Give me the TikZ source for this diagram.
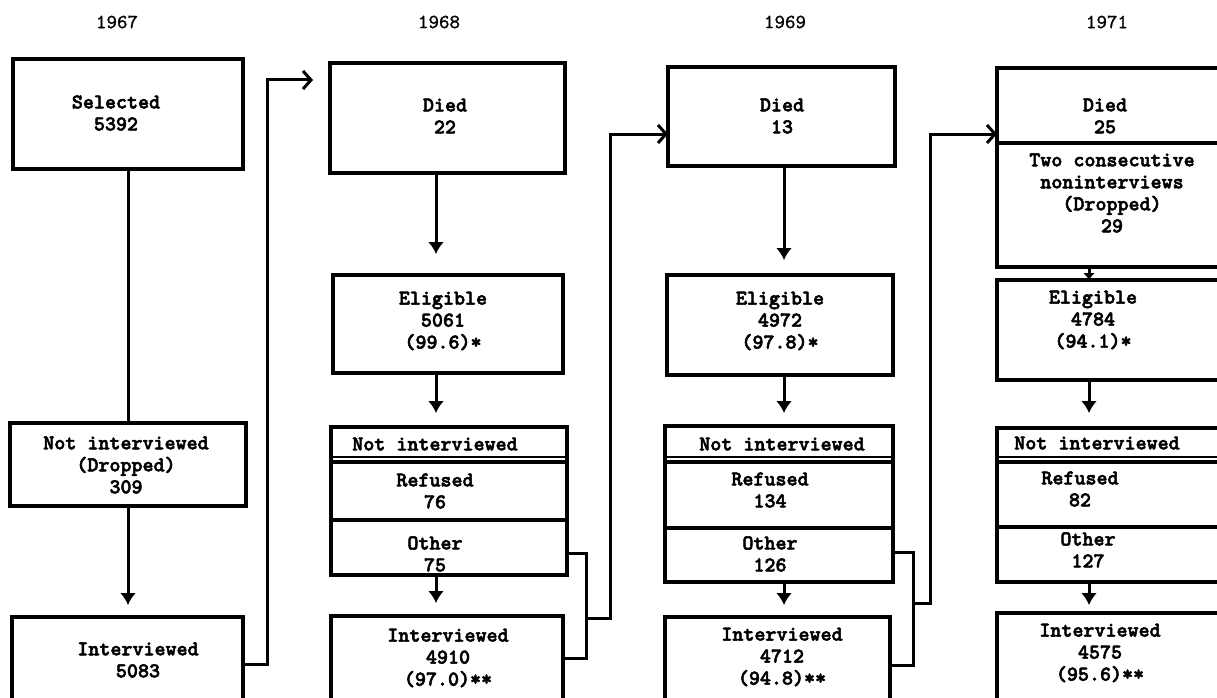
\documentclass[tikz,border=0pt]{standalone}
\usepackage{fontspec}
\usetikzlibrary{arrows.meta}
\newfontfamily\twbold[FakeBold=2.5]{lmmonolt10-bold.otf}
\newfontfamily\twreg[FakeBold=1.2]{lmmono10-regular.otf}
\newcommand\twfont{\twbold\fontsize{21}{22}\selectfont}
\newcommand\yrfont{\twreg\fontsize{20}{22}\selectfont}
\tikzset{
  box/.style={draw, line width=3.2pt, inner sep=0pt, outer sep=0pt},
  txt/.style={font=\twfont, align=center, inner sep=0pt},
  yr/.style={font=\yrfont, inner sep=0pt},
  conn/.style={draw, line width=3pt},
  varr/.style={conn, -{Latex[length=12pt,width=16pt]}},
  harr/.style={conn, -{Straight Barb[length=8pt,width=18pt]}}}
\begin{document}
\begin{tikzpicture}[x=1pt,y=-1pt]
\clip (0,0) rectangle (1217,698);

% years
\node[yr] (y67) at (117,22) {1967};
\node[yr] (y68) at (439,22) {1968};
\node[yr] (y69) at (785,22) {1969};
\node[yr] (y71) at (1107,22) {1971};

% ---------- 1967 ----------
\node[box, minimum width=230pt, minimum height=110pt] (sel) at (128,114) {};
\node[box, minimum width=236pt, minimum height=83pt] (ni67) at (128,464.5) {};
\node[box, minimum width=231pt, minimum height=103pt] (int67) at (127.5,668.5) {};
\node[txt] (tsel) at (116,113) {Selected\\5392};
\node[txt] (tni67) at (126,465) {Not interviewed\\(Dropped)\\309};
\node[txt] (tint67) at (138,660) {Interviewed\\5083};

% ---------- 1968 ----------
\node[box, minimum width=235pt, minimum height=110pt] (died68) at (447.5,118) {};
\node[box, minimum width=230pt, minimum height=98pt] (elig68) at (448,324) {};
\node[box, minimum width=236pt, minimum height=35pt] (hdr68) at (449,444.5) {};
\node[box, minimum width=236pt, minimum height=58pt] (ref68) at (449,491) {};
\node[box, minimum width=236pt, minimum height=55pt] (oth68) at (449,547.5) {};
\node[box, minimum width=232pt, minimum height=104pt] (int68) at (447,668) {};
\draw[line width=2pt] ([yshift=5pt]hdr68.south west) -- ([yshift=5pt]hdr68.south east);
\node[txt] (tdied68) at (445,116) {Died\\22};
\node[txt] (telig68) at (443,321) {Eligible\\5061\\(99.6)*};
\node[txt] (thdr68) at (435,444) {Not interviewed};
\node[txt] (tref68) at (435,491) {Refused\\76};
\node[txt] (toth68) at (435,554) {Other\\75};
\node[txt] (tint68) at (448,658) {Interviewed\\4910\\(97.0)**};

% ---------- 1969 ----------
\node[box, minimum width=227pt, minimum height=99pt] (died69) at (781.5,116.5) {};
\node[box, minimum width=226pt, minimum height=100pt] (elig69) at (780,325) {};
\node[box, minimum width=228pt, minimum height=36pt] (hdr69) at (779,444) {};
\node[box, minimum width=228pt, minimum height=66pt] (ref69) at (779,495) {};
\node[box, minimum width=228pt, minimum height=54pt] (oth69) at (779,555) {};
\node[box, minimum width=225pt, minimum height=103pt] (int69) at (777.5,668.5) {};
\draw[line width=2pt] ([yshift=5pt]hdr69.south west) -- ([yshift=5pt]hdr69.south east);
\node[txt] (tdied69) at (782,116) {Died\\13};
\node[txt] (telig69) at (780,321) {Eligible\\4972\\(97.8)*};
\node[txt] (thdr69) at (782,444) {Not interviewed};
\node[txt] (tref69) at (770,490) {Refused\\134};
\node[txt] (toth69) at (770,554) {Other\\126};
\node[txt] (tint69) at (782,657) {Interviewed\\4712\\(94.8)**};

% ---------- 1971 ----------
\node[box, minimum width=243pt, minimum height=75pt] (dd71) at (1118.5,105.5) {};
\node[box, minimum width=243pt, minimum height=124pt] (tc71) at (1118.5,205) {};
\node[box, minimum width=243pt, minimum height=100pt] (elig71) at (1118.5,330) {};
\node[box, minimum width=243pt, minimum height=34pt] (hdr71) at (1118.5,445) {};
\node[box, minimum width=243pt, minimum height=65pt] (ref71) at (1118.5,494.5) {};
\node[box, minimum width=243pt, minimum height=55pt] (oth71) at (1118.5,554.5) {};
\node[box, minimum width=243pt, minimum height=107pt] (int71) at (1118.5,666.5) {};
\draw[line width=2pt] ([yshift=5pt]hdr71.south west) -- ([yshift=5pt]hdr71.south east);
\node[txt] (tdd71) at (1105,116) {Died\\25};
\node[txt] (ttc71) at (1112,193) {Two consecutive\\noninterviews\\(Dropped)\\29};
\node[txt] (telig71) at (1093,320) {Eligible\\4784\\(94.1)*};
\node[txt] (thdr71) at (1097,443) {Not interviewed};
\node[txt] (tref71) at (1080,489) {Refused\\82};
\node[txt] (toth71) at (1088,550) {Other\\127};
\node[txt] (tint71) at (1100,653) {Interviewed\\4575\\(95.6)**};

% ---------- vertical arrows ----------
\coordinate (ax67) at (128,0);
\coordinate (ax68) at (436,0);
\coordinate (ax69) at (784,0);
\coordinate (ax71) at (1089,0);
\path[conn] (sel.south -| ax67) -- (ni67.north -| ax67);
\path[varr, shorten >=12pt] (ni67.south -| ax67) -- (int67.north -| ax67);

\path[varr, shorten >=21pt] (died68.south -| ax68) -- (elig68.north -| ax68);
\path[varr, shorten >=14pt] (elig68.south -| ax68) -- (hdr68.north -| ax68);
\path[varr, shorten >=13pt] (oth68.south -| ax68) -- (int68.north -| ax68);

\path[varr, shorten >=15pt] (died69.south -| ax69) -- (elig69.north -| ax69);
\path[varr, shorten >=13pt] (elig69.south -| ax69) -- (hdr69.north -| ax69);
\path[varr, shorten >=12pt] (oth69.south -| ax69) -- (int69.north -| ax69);

\path[conn, -{Latex[length=7pt,width=12pt]}] (tc71.south -| ax71) -- (elig71.north -| ax71);
\path[varr, shorten >=15pt] (elig71.south -| ax71) -- (hdr71.north -| ax71);
\path[varr, shorten >=8pt] (oth71.south -| ax71) -- (int71.north -| ax71);

% ---------- carry-forward connectors ----------
\path[harr, shorten >=17pt] ([yshift=4pt]int67.east) -- ++(24,0) |- ([yshift=38pt]died68.west);

\path[conn] ([yshift=-6pt]oth68.east) -- ++(19,0) |- ([yshift=10pt]int68.east);
\coordinate (b68) at (586,618);
\path[harr] (b68) -- ++(24,0) |- ([yshift=-17.5pt]died69.west);

\path[conn] ([yshift=3pt]oth69.east) -- ++(20,0) |- ([yshift=3.5pt]int69.east);
\coordinate (b69) at (913,603);
\path[harr] (b69) -- ++(17,0) |- ([yshift=-28.5pt]dd71.west);
\end{tikzpicture}
\end{document}
